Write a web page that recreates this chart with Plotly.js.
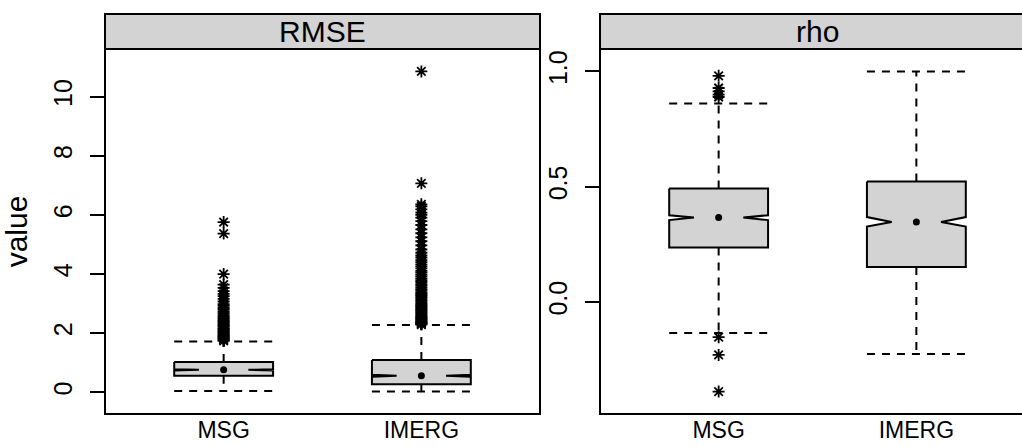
<!DOCTYPE html>
<html>
<head>
<meta charset="utf-8">
<script src="https://cdn.plot.ly/plotly-3.0.1.min.js"></script>
<style>html,body{margin:0;padding:0;background:#fff;}#chart{width:1022px;height:447px;}</style>
</head>
<body>
<div id="chart"></div>
<script>
// ---------------- data ----------------
const categories = ["MSG", "IMERG"];
const panelNames = ["RMSE", "rho"];

// RMSE panel
const rmseLowerWhisker = [0.044, 0.02];
const rmseQ1 = [0.553, 0.27];
const rmseMedian = [0.757, 0.553];
const rmseQ3 = [1.018, 1.086];
const rmseUpperWhisker = [1.718, 2.274];
const rmseNotchLow = [0.737, 0.52];
const rmseNotchHigh = [0.777, 0.586];
const rmseOutliersMSG = [5.76, 5.37, 4.0, 3.64, 3.53, 3.42, 3.33, 3.25, 3.16, 3.07, 2.98, 2.92, 2.85, 2.79,
  2.72, 2.67, 2.61, 2.55, 2.51, 2.46, 2.41, 2.36, 2.33, 2.28, 2.25, 2.21, 2.16, 2.13, 2.09, 2.05, 2.02,
  1.98, 1.94, 1.91, 1.88, 1.85, 1.82, 1.79, 1.76, 1.74];
const rmseOutliersIMERG = [10.86, 7.07, 6.36, 6.29, 6.19, 6.08, 6.0, 5.91, 5.79, 5.66, 5.51, 5.38, 5.24,
  5.11, 4.97, 4.83, 4.72, 4.63, 4.56, 4.47, 4.4, 4.33, 4.26, 4.19, 4.11, 4.05, 3.98, 3.92, 3.85, 3.79,
  3.73, 3.66, 3.61, 3.55, 3.49, 3.44, 3.38, 3.34, 3.29, 3.24, 3.19, 3.14, 3.09, 3.04, 2.99, 2.95, 2.91,
  2.87, 2.83, 2.79, 2.75, 2.71, 2.67, 2.63, 2.59, 2.55, 2.52, 2.49, 2.46, 2.43, 2.4, 2.37, 2.35, 2.33,
  2.31, 2.29];

// rho panel
const rhoLowerWhisker = [-0.135, -0.226];
const rhoQ1 = [0.236, 0.152];
const rhoMedian = [0.366, 0.347];
const rhoQ3 = [0.492, 0.522];
const rhoUpperWhisker = [0.861, 1.0];
const rhoNotchLow = [0.355, 0.327];
const rhoNotchHigh = [0.376, 0.368];
const rhoOutliersMSG = [0.981, 0.928, 0.913, 0.899, 0.889, -0.153, -0.23, -0.389];
const rhoOutliersIMERG = [];

const yTicksRMSE = [0, 2, 4, 6, 8, 10];
const yTicksRho = [0, 0.5, 1];
const yTickTextRho = ["0.0", "0.5", "1.0"];

// ---------------- style ----------------
const FONT = "Liberation Sans, Arial, Helvetica, sans-serif";
const GREY = "#d3d3d3";
const LW = 2;
const HALF = 0.25;       // half box width (category units)
const NOTCH_IN = 0.125;  // notch inset

function panelTraces(st, outs, xa, ya) {
  const traces = [];
  for (let i = 0; i < categories.length; i++) {
    const c = i + 1;
    // whiskers (dashed)
    traces.push({
      type: "scatter", mode: "lines", xaxis: xa, yaxis: ya, hoverinfo: "skip", showlegend: false,
      x: [c, c, null, c, c, null, c - HALF, c + HALF, null, c - HALF, c + HALF],
      y: [st.q3[i], st.hi[i], null, st.q1[i], st.lo[i], null, st.hi[i], st.hi[i], null, st.lo[i], st.lo[i]],
      line: {color: "#000", width: LW, dash: "8px,7px"}
    });
    // notched box
    traces.push({
      type: "scatter", mode: "lines", xaxis: xa, yaxis: ya, hoverinfo: "skip", showlegend: false,
      fill: "toself", fillcolor: GREY,
      x: [c - HALF, c + HALF, c + HALF, c + HALF - NOTCH_IN, c + HALF, c + HALF, c - HALF, c - HALF,
          c - HALF + NOTCH_IN, c - HALF, c - HALF],
      y: [st.q3[i], st.q3[i], st.nh[i], st.med[i], st.nl[i], st.q1[i], st.q1[i], st.nl[i],
          st.med[i], st.nh[i], st.q3[i]],
      line: {color: "#000", width: LW}
    });
  }
  // median dots
  traces.push({
    type: "scatter", mode: "markers", xaxis: xa, yaxis: ya, showlegend: false,
    x: categories.map((_, i) => i + 1), y: st.med,
    marker: {symbol: "circle", size: 7, color: "#000"}
  });
  // outliers
  outs.forEach((arr, i) => {
    if (!arr.length) return;
    traces.push({
      type: "scatter", mode: "markers", xaxis: xa, yaxis: ya, showlegend: false,
      x: arr.map(() => i + 1), y: arr,
      marker: {symbol: "asterisk-open", size: 10, color: "#000", line: {color: "#000", width: 1.8}}
    });
  });
  return traces;
}

function latticeRange(st, outs) {
  const all = [].concat(st.lo, st.hi, ...outs);
  const mn = Math.min(...all), mx = Math.max(...all);
  const pad = 0.07 * (mx - mn);
  return [mn - pad, mx + pad];
}

const rmseStats = {lo: rmseLowerWhisker, q1: rmseQ1, med: rmseMedian, q3: rmseQ3, hi: rmseUpperWhisker,
  nl: rmseNotchLow, nh: rmseNotchHigh};
const rhoStats = {lo: rhoLowerWhisker, q1: rhoQ1, med: rhoMedian, q3: rhoQ3, hi: rhoUpperWhisker,
  nl: rhoNotchLow, nh: rhoNotchHigh};
const rmseOut = [rmseOutliersMSG, rmseOutliersIMERG];
const rhoOut = [rhoOutliersMSG, rhoOutliersIMERG];

const data = [].concat(
  panelTraces(rmseStats, rmseOut, "x", "y"),
  panelTraces(rhoStats, rhoOut, "x2", "y2")
);

// ---------------- layout ----------------
const W = 1022, H = 447;
const M = {l: 105, r: 0, t: 14, b: 33};
const plotW = W - M.l - M.r;
const panelPx = 435, gapPx = 60;
const leftDom = [0, panelPx / plotW];
const rightDom = [(panelPx + gapPx) / plotW, 1];
const stripFrac = 35 / (H - M.t - M.b);
const yDom = [0, 1 - stripFrac];
const xRangeLeft = [0.4, categories.length + 0.6];
const rightPx = plotW - panelPx - gapPx;
const xRangeRight = [0.4, 0.4 + (xRangeLeft[1] - xRangeLeft[0]) * rightPx / panelPx];

const tickFont = {family: FONT, size: 25, color: "#000"};
const xCommon = {
  tickmode: "array", tickvals: categories.map((_, i) => i + 1), ticktext: categories,
  ticks: "", showgrid: false, zeroline: false, showline: false,
  tickfont: {family: FONT, size: 23, color: "#000"},
  ticklabelstandoff: 0, fixedrange: true
};
const yCommon = {
  ticks: "outside", ticklen: 14, tickwidth: LW, tickcolor: "#000", tickangle: -90,
  showgrid: false, zeroline: false, showline: false, tickfont: tickFont, ticklabelstandoff: 8,
  fixedrange: true
};

const layout = {
  width: W, height: H, margin: M, paper_bgcolor: "#fff", plot_bgcolor: "#fff",
  showlegend: false, font: {family: FONT, color: "#000"},
  xaxis: Object.assign({}, xCommon, {domain: leftDom, range: xRangeLeft, anchor: "y"}),
  xaxis2: Object.assign({}, xCommon, {domain: rightDom, range: xRangeRight, anchor: "y2"}),
  yaxis: Object.assign({}, yCommon, {domain: yDom, range: latticeRange(rmseStats, rmseOut), anchor: "x",
    tickmode: "array", tickvals: yTicksRMSE, ticktext: yTicksRMSE.map(String),
    title: {text: "value", font: {family: FONT, size: 30, color: "#000"}, standoff: 12}}),
  yaxis2: Object.assign({}, yCommon, {domain: yDom, range: latticeRange(rhoStats, rhoOut), anchor: "x2",
    tickmode: "array", tickvals: yTicksRho, ticktext: yTickTextRho}),
  shapes: [
    {type: "rect", xref: "paper", yref: "paper", x0: leftDom[0], x1: leftDom[1], y0: yDom[0], y1: yDom[1],
      line: {color: "#000", width: LW}, layer: "above"},
    {type: "rect", xref: "paper", yref: "paper", x0: leftDom[0], x1: leftDom[1], y0: yDom[1], y1: 1,
      fillcolor: GREY, line: {color: "#000", width: LW}, layer: "above"},
    {type: "rect", xref: "paper", yref: "paper", x0: rightDom[0], x1: rightDom[0] + panelPx / plotW,
      y0: yDom[0], y1: yDom[1], line: {color: "#000", width: LW}, layer: "above"},
    {type: "rect", xref: "paper", yref: "paper", x0: rightDom[0], x1: rightDom[0] + panelPx / plotW,
      y0: yDom[1], y1: 1, fillcolor: GREY, line: {color: "#000", width: LW}, layer: "above"}
  ],
  annotations: [
    {text: panelNames[0], xref: "paper", yref: "paper", x: (leftDom[0] + leftDom[1]) / 2,
      y: (yDom[1] + 1) / 2, xanchor: "center", yanchor: "middle", showarrow: false,
      font: {family: FONT, size: 30, color: "#000"}},
    {text: panelNames[1], xref: "paper", yref: "paper", x: rightDom[0] + panelPx / plotW / 2,
      y: (yDom[1] + 1) / 2, xanchor: "center", yanchor: "middle", showarrow: false,
      font: {family: FONT, size: 30, color: "#000"}}
  ]
};

Plotly.newPlot("chart", data, layout, {displayModeBar: false, staticPlot: true});
</script>
</body>
</html>
